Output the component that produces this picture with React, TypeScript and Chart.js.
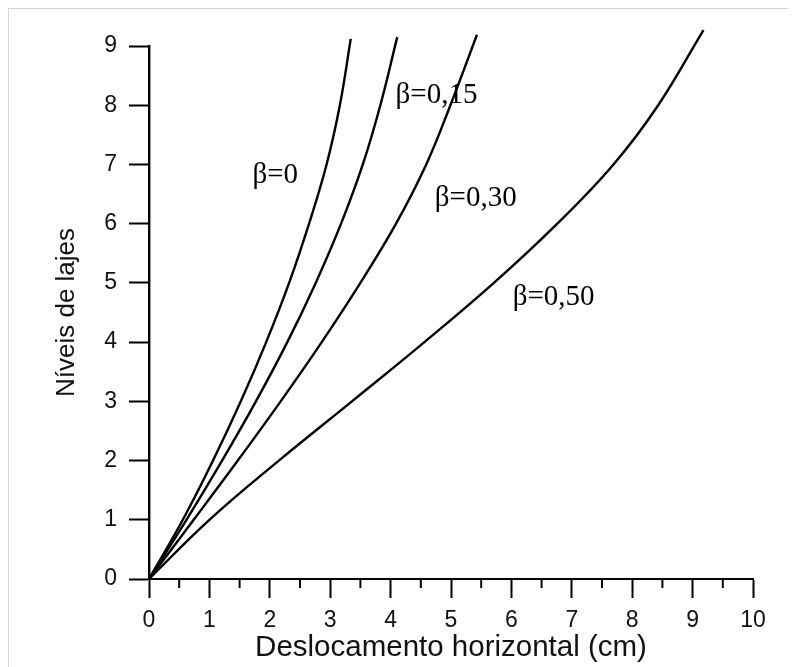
import React, { useEffect, useRef } from "react";
import { Chart, registerables } from "chart.js";

Chart.register(...registerables);

// Floor levels (y) and horizontal displacement (x, cm) for each β
const levels = [0, 1, 2, 3, 4, 5, 6, 7, 8];
const dispB000 = [0, 0.56, 1.06, 1.52, 1.94, 2.32, 2.65, 2.94, 3.16];
const dispB015 = [0, 0.62, 1.21, 1.77, 2.29, 2.76, 3.18, 3.54, 3.83];
const dispB030 = [0, 0.74, 1.47, 2.18, 2.86, 3.5, 4.09, 4.59, 4.99];
const dispB050 = [0, 1.0, 2.15, 3.36, 4.56, 5.71, 6.76, 7.69, 8.43];
// curve end points at the top (slightly above level 9)
const endLevel = [9.12, 9.15, 9.19, 9.27];
const endDisp = [3.34, 4.11, 5.43, 9.18];

const seriesNames = ["β=0", "β=0,15", "β=0,30", "β=0,50"];
const labelX = [2.09, 4.76, 5.41, 6.7];
const labelY = [6.82, 8.16, 6.43, 4.76];

const xMinorTicks = [0.5, 1.5, 2.5, 3.5, 4.5, 5.5, 6.5, 7.5, 8.5, 9.5];

const xTitle = "Deslocamento horizontal (cm)";
const yTitle = "Níveis de lajes";

const SANS = "'Liberation Sans', Arial, Helvetica, sans-serif";
const SERIF = "'Liberation Serif', 'Times New Roman', serif";

export default function App() {
  const canvasRef = useRef<HTMLCanvasElement | null>(null);

  useEffect(() => {
    document.documentElement.style.overflow = "hidden";
    document.body.style.overflow = "hidden";
    const canvas = canvasRef.current;
    if (!canvas) return;

    const allDisp = [dispB000, dispB015, dispB030, dispB050];
    const datasets = allDisp.map((arr, i) => ({
      label: seriesNames[i],
      data: [
        ...arr.map((x, j) => ({ x, y: levels[j] })),
        { x: endDisp[i], y: endLevel[i] },
      ],
      borderColor: "#000",
      borderWidth: 2.4,
      pointRadius: 0,
      fill: false,
      tension: 0.4,
      clip: false as const,
    }));

    const extras = {
      id: "extras",
      afterDraw(chart: any) {
        const ctx = chart.ctx;
        const xs = chart.scales.x;
        const ys = chart.scales.y;
        ctx.save();
        ctx.strokeStyle = "#000";
        ctx.lineWidth = 2;
        xMinorTicks.forEach((v) => {
          const px = xs.getPixelForValue(v);
          ctx.beginPath();
          ctx.moveTo(px, xs.top);
          ctx.lineTo(px, xs.top + 9);
          ctx.stroke();
        });
        ctx.fillStyle = "#000";
        ctx.font = `29px ${SERIF}`;
        ctx.textAlign = "center";
        ctx.textBaseline = "middle";
        seriesNames.forEach((name, i) => {
          ctx.fillText(name, xs.getPixelForValue(labelX[i]), ys.getPixelForValue(labelY[i]));
        });
        ctx.restore();
      },
    };

    const chart = new Chart(canvas, {
      type: "line",
      data: { datasets },
      options: {
        animation: false,
        responsive: false,
        devicePixelRatio: 1,
        layout: { padding: { top: 37, right: 43, left: 0, bottom: 0 } },
        plugins: { legend: { display: false }, tooltip: { enabled: false } },
        scales: {
          x: {
            type: "linear",
            min: 0,
            max: 10,
            ticks: {
              stepSize: 1,
              color: "#111",
              padding: 9,
              maxRotation: 0,
              font: { family: SANS, size: 23 },
            },
            grid: {
              drawOnChartArea: false,
              tickLength: 19,
              tickWidth: 2,
              tickColor: "#000",
            },
            border: { color: "#000", width: 2 },
            title: {
              display: true,
              text: xTitle,
              color: "#111",
              font: { family: SANS, size: 29.5 },
              padding: { top: 0, bottom: 1 },
            },
            afterFit(scale: any) {
              scale.height = 88;
              scale.paddingLeft = 0;
              scale.paddingRight = 0;
            },
          },
          y: {
            type: "linear",
            min: 0,
            max: 9,
            ticks: {
              stepSize: 1,
              color: "#111",
              padding: 12,
              font: { family: SANS, size: 23 },
            },
            grid: {
              drawOnChartArea: false,
              tickLength: 20,
              tickWidth: 2,
              tickColor: "#000",
            },
            border: { color: "#000", width: 2.4 },
            title: {
              display: true,
              text: yTitle,
              color: "#111",
              font: { family: SANS, size: 26 },
              padding: { top: 42, bottom: 0 },
            },
            afterFit(scale: any) {
              scale.width = 140;
              scale.paddingTop = 0;
              scale.paddingBottom = 0;
            },
          },
        },
      },
      plugins: [extras],
    });

    return () => chart.destroy();
  }, []);

  return (
    <div
      style={{
        width: 787,
        height: 658,
        borderTop: "1px solid #d4d4d4",
        borderLeft: "1px solid #d4d4d4",
        background: "#fff",
      }}
    >
      <canvas ref={canvasRef} width={787} height={658} style={{ display: "block" }} />
    </div>
  );
}
